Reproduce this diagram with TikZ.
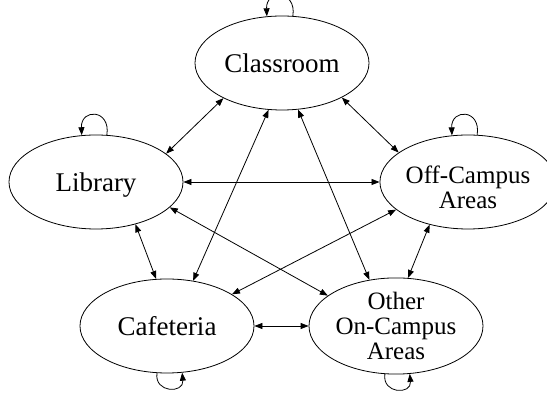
\documentclass[tikz,border=0pt]{standalone}
\usepackage{fontspec}
\setmainfont{Liberation Serif}
\usetikzlibrary{arrows.meta,shapes.geometric}
\tikzset{
  place/.style={draw, ellipse, line width=0.8pt, minimum width=174pt, minimum height=94pt, inner sep=0pt,
    font=\fontsize{27}{25}\selectfont, text height=19pt, text depth=0pt},
  multi/.style={font=\fontsize{25}{25}\selectfont, align=center},
  link/.style={line width=0.8pt, {Triangle[length=8pt,width=6pt]}-{Triangle[length=8pt,width=6pt]}},
  loop/.style={line width=0.8pt, -{Triangle[length=8pt,width=6pt]}}
}
\begin{document}
\begin{tikzpicture}[x=1pt,y=1pt]
\useasboundingbox (0,0) rectangle (547,393);
\node[place] (cls) at (282,330) {Classroom};
\node[place] (lib) at (96,211) {Library};
\node[place, multi, text height=54pt, text depth=0pt] (off) at (468,211) {Off-Campus\\Areas};
\node[place] (caf) at (167,67) {Cafeteria};
\node[place, multi, text height=68pt, text depth=0pt] (oth) at (396,67) {Other\\On-Campus\\Areas};
% connectors
\draw[link] (cls.-149) -- (lib.22.2);
\draw[link] (cls.-106.7) -- (caf.60.5);
\draw[link] (cls.-71.2) -- (oth.120.4);
\draw[link] (cls.-30.8) -- (off.157.8);
\draw[link] (lib.0) -- (off.180);
\draw[link] (lib.-19.1) -- (oth.156.4);
\draw[link] (lib.-47) -- (caf.103.8);
\draw[link] (off.201.8) -- (caf.26.6);
\draw[link] (off.228.4) -- (oth.76.8);
\draw[link] (caf.0) -- (oth.180);
% self loops
\draw[loop] (cls.77) .. controls +(4,26) and +(-1,27) .. (cls.108);
\draw[loop] (lib.77) .. controls +(4,26) and +(-1,27) .. (lib.107);
\draw[loop] (off.79) .. controls +(4,26) and +(-1,27) .. (off.109);
\draw[loop] (caf.-102) .. controls +(-3,-20) and +(2,-21) .. (caf.-72);
\draw[loop] (oth.-103) .. controls +(-3,-20) and +(2,-21) .. (oth.-74);
\end{tikzpicture}
\end{document}
